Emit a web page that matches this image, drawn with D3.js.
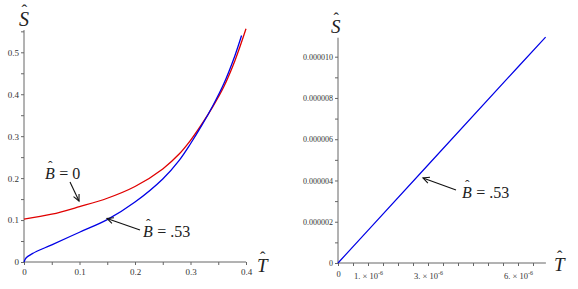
<!DOCTYPE html>
<html>
<head>
<meta charset="utf-8">
<script src="https://cdn.jsdelivr.net/npm/d3@7"></script>
<style>
  body { margin: 0; background: #fff; }
  svg { display: block; }
</style>
</head>
<body>
<svg width="578" height="289" font-family="Liberation Serif"></svg>
<script>
// left panel: S-hat vs T-hat for two B-hat values
var tRed  = [0, 0.05, 0.1, 0.15, 0.2, 0.25, 0.28, 0.3, 0.32, 0.34, 0.36, 0.38, 0.4];
var sRed  = [0.102, 0.114, 0.132, 0.152, 0.18, 0.222, 0.258, 0.29, 0.328, 0.37, 0.418, 0.48, 0.556];
var tBlue = [0, 0.004, 0.015, 0.05, 0.1, 0.15, 0.2, 0.25, 0.28, 0.3, 0.32, 0.34, 0.36, 0.38, 0.392];
var sBlue = [0, 0.01, 0.02, 0.041, 0.071, 0.101, 0.143, 0.198, 0.243, 0.282, 0.325, 0.372, 0.425, 0.492, 0.54];
var leftXTicks = [0, 0.1, 0.2, 0.3, 0.4];
var leftYTicks = [0, 0.1, 0.2, 0.3, 0.4, 0.5];

// right panel: small-T zoom, B-hat = .53
var tSmall = [0, 1e-6, 3e-6, 6e-6, 6.92e-6];
var sSmall = [0, 1.58e-6, 4.75e-6, 9.5e-6, 1.095e-5];
var rightXTicks = [0, 1e-6, 3e-6, 6e-6];
var rightXLabels = [["0", ""], ["1. \u00d7 10", "-6"], ["3. \u00d7 10", "-6"], ["6. \u00d7 10", "-6"]];
var rightYTicks = [0, 2e-6, 4e-6, 6e-6, 8e-6, 1e-5];
var rightYLabels = ["0", "0.000002", "0.000004", "0.000006", "0.000008", "0.000010"];

var svg = d3.select("svg");
var axisCol = "#666";
// hat offset (in em, back from the letter's end) per letter
var hatBack = {S: 0.37, T: 0.40, B: 0.42};

function zip(a, b) { return a.map(function(v, i) { return [v, b[i]]; }); }

// letter with a hat, plus optional trailing text, all in one text element
function hatText(g, x, y, letter, size, rest) {
  var t = g.append("text")
    .attr("x", x).attr("y", y)
    .attr("font-family", "Liberation Serif").attr("fill", "#222")
    .attr("font-size", size);
  t.append("tspan").attr("font-style", "italic").text(letter);
  t.append("tspan").attr("dx", -size * hatBack[letter]).attr("dy", -size * 0.5)
    .attr("font-size", size * 0.85).text("\u02c6");
  if (rest) t.append("tspan").attr("dx", size * 0.16).attr("dy", size * 0.5)
    .attr("xml:space", "preserve").text(rest);
  return t;
}

function arrow(g, x1, y1, x2, y2) {
  g.append("line").attr("x1", x1).attr("y1", y1).attr("x2", x2).attr("y2", y2)
    .attr("stroke", "#111").attr("stroke-width", 1.1);
  var a = Math.atan2(y2 - y1, x2 - x1), L = 7, w = 0.45;
  g.append("path")
    .attr("d", "M" + (x2 - L * Math.cos(a - w)) + "," + (y2 - L * Math.sin(a - w)) +
      "L" + x2 + "," + y2 +
      "L" + (x2 - L * Math.cos(a + w)) + "," + (y2 - L * Math.sin(a + w)))
    .attr("fill", "none").attr("stroke", "#111").attr("stroke-width", 1.1);
}

function styleTicks(a, size) {
  a.attr("font-family", "Liberation Serif").attr("font-size", size);
  a.select(".domain").remove();
  a.selectAll("line").attr("stroke", axisCol);
  a.selectAll("text").attr("fill", "#333");
}

// ---------- left panel ----------
var xL = d3.scaleLinear().domain([0, 0.4]).range([24, 246]);
var yL = d3.scaleLinear().domain([0, 0.5]).range([262, 52.3]);
var gL = svg.append("g");

gL.append("line").attr("x1", xL(0)).attr("x2", xL(0.4))
  .attr("y1", yL(0)).attr("y2", yL(0)).attr("stroke", axisCol);
gL.append("line").attr("x1", xL(0)).attr("x2", xL(0))
  .attr("y1", yL(0)).attr("y2", yL(0.553)).attr("stroke", axisCol);

gL.append("g").attr("transform", "translate(0," + yL(0) + ")")
  .call(d3.axisBottom(xL).tickValues(d3.range(0, 0.401, 0.05)).tickSize(3).tickFormat(""))
  .call(styleTicks, 9);
gL.append("g").attr("transform", "translate(0," + yL(0) + ")")
  .call(d3.axisBottom(xL).tickValues(leftXTicks).tickSize(0).tickPadding(7)
    .tickFormat(function(d) { return d === 0 ? "0" : d3.format(".1f")(d); }))
  .call(styleTicks, 9);

gL.append("g").attr("transform", "translate(" + xL(0) + ",0)")
  .call(d3.axisLeft(yL).tickValues(d3.range(0, 0.551, 0.05)).tickSize(3).tickFormat(""))
  .call(styleTicks, 9);
gL.append("g").attr("transform", "translate(" + xL(0) + ",0)")
  .call(d3.axisLeft(yL).tickValues(leftYTicks).tickSize(0).tickPadding(5)
    .tickFormat(function(d) { return d === 0 ? "0" : d3.format(".1f")(d); }))
  .call(styleTicks, 9);

var lineL = d3.line().curve(d3.curveCatmullRom.alpha(0.5))
  .x(function(d) { return xL(d[0]); }).y(function(d) { return yL(d[1]); });
gL.append("path").datum(zip(tRed, sRed)).attr("d", lineL)
  .attr("fill", "none").attr("stroke", "#e00000").attr("stroke-width", 1.3);
gL.append("path").datum(zip(tBlue, sBlue)).attr("d", lineL)
  .attr("fill", "none").attr("stroke", "#0000e6").attr("stroke-width", 1.3);

hatText(gL, 19, 26, "S", 20);
hatText(gL, 257, 272, "T", 19);

hatText(gL, 45, 179, "B", 16, " = 0");
arrow(gL, 70, 182, 79, 201);
hatText(gL, 143, 237, "B", 16, " = .53");
arrow(gL, 140, 230, 107, 218.5);

// ---------- right panel ----------
var xR = d3.scaleLinear().domain([0, 6e-6]).range([338, 518]);
var yR = d3.scaleLinear().domain([0, 1e-5]).range([263, 56.7]);
var gR = svg.append("g");

gR.append("line").attr("x1", xR(0)).attr("x2", xR(6.93e-6))
  .attr("y1", yR(0)).attr("y2", yR(0)).attr("stroke", axisCol);
gR.append("line").attr("x1", xR(0)).attr("x2", xR(0))
  .attr("y1", yR(0)).attr("y2", yR(1.092e-5)).attr("stroke", axisCol);

gR.append("g").attr("transform", "translate(0," + yR(0) + ")")
  .call(d3.axisBottom(xR).tickValues(d3.range(0, 6.6e-6, 0.5e-6)).tickSize(3).tickFormat(""))
  .call(styleTicks, 8);
var xt = gR.append("g").attr("transform", "translate(0," + yR(0) + ")")
  .call(d3.axisBottom(xR).tickValues(rightXTicks).tickSize(0).tickPadding(10).tickFormat(""));
styleTicks(xt, 8.5);
xt.selectAll(".tick text").each(function(d, i) {
  var t = d3.select(this);
  t.append("tspan").text(rightXLabels[i][0]);
  if (rightXLabels[i][1]) t.append("tspan").attr("dy", -4).attr("font-size", 6).text(rightXLabels[i][1]);
});
xt.selectAll(".tick").filter(function(d) { return d === 0; }).select("text").attr("y", 8);

gR.append("g").attr("transform", "translate(" + xR(0) + ",0)")
  .call(d3.axisLeft(yR).tickValues(d3.range(0, 1.06e-5, 1e-6)).tickSize(3).tickFormat(""))
  .call(styleTicks, 8);
gR.append("g").attr("transform", "translate(" + xR(0) + ",0)")
  .call(d3.axisLeft(yR).tickValues(rightYTicks).tickSize(0).tickPadding(5)
    .tickFormat(function(d, i) { return rightYLabels[i]; }))
  .call(styleTicks, 8);

var lineR = d3.line()
  .x(function(d) { return xR(d[0]); }).y(function(d) { return yR(d[1]); });
gR.append("path").datum(zip(tSmall, sSmall)).attr("d", lineR)
  .attr("fill", "none").attr("stroke", "#0000e6").attr("stroke-width", 1.2);

hatText(gR, 331, 33, "S", 19);
hatText(gR, 554, 271, "T", 19);

hatText(gR, 462, 198, "B", 16, " = .53");
arrow(gR, 456, 190, 423, 178);
</script>
</body>
</html>
